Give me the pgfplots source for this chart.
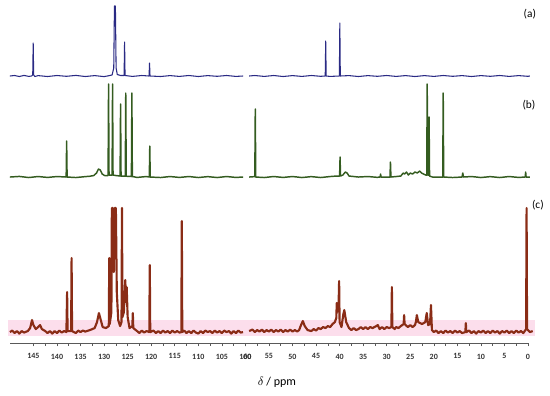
\documentclass[border=0pt]{standalone}
\usepackage{pgfplots}
\pgfplotsset{compat=1.18}
\usepackage{fontspec}
\setmainfont{Carlito}

\definecolor{specA}{RGB}{42,42,132}
\definecolor{specB}{RGB}{52,92,32}
\definecolor{specC}{RGB}{138,44,22}
\definecolor{bandC}{RGB}{252,222,236}

% x: left half (150-100 ppm) drawn at ppm-40, right half (60-0 ppm) at ppm
% y: offsets of the three traces above the ppm axis (1 unit = 1 px)
\begin{document}
\begin{tikzpicture}
\begin{axis}[
    scale only axis,
    width=388.5pt, height=257.25pt,
    xmin=0, xmax=110, ymin=0, ymax=343,
    x dir=reverse,
    axis x line*=bottom,
    axis y line=none,
    clip=false,
    x axis line style={gray!70!black, line width=0.5pt},
    xtick={0,5,...,105},
    xticklabels={0,5,10,15,20,25,30,35,40,45,50,55,100,105,110,115,120,125,130,135,140,145},
    extra x ticks={60},
    extra x tick labels={60},
    extra x tick style={xticklabel style={xshift=1.5pt}},
    minor x tick num=1,
    xtick align=outside,
    major tick length=2.5pt, minor tick length=2pt,
    tick style={gray!70!black, line width=0.4pt},
    /pgf/number format/assume math mode=true,
    xticklabel style={font=\bfseries\fontsize{6}{7}\selectfont, text=black!80, yshift=-2pt},
    xlabel={$\delta$ / ppm},
    xlabel style={at={(axis cs:53.3,-39)}, anchor=center, font=\fontsize{9}{10}\selectfont},
]

% pink band behind trace (c)
\addplot[draw=none, fill=bandC] coordinates {(110.4,7) (-1.5,7) (-1.5,23) (110.4,23)} -- cycle;

% ---------- (a) ----------
\addplot[specA, line width=0.8pt, line join=round] table[x expr=\thisrow{ppm}-40, y expr=\thisrow{h}+267] {
ppm h
150 0
149 0.5
148 -0.5
147 0.6
146 -0.4
145.4 0
145.15 1
145.05 33
144.95 1
144.7 -0.5
144 0.4
142 -0.5
140 0.5
138 -0.3
136 0.6
134 -0.5
132 0.4
130 -0.6
129 0.3
128.3 1
127.95 8
127.8 70
127.6 70
127.45 8
127.2 1.5
126.5 0.5
125.75 0.5
125.65 34
125.55 0.5
124 -0.4
122 0.5
120.45 0
120.35 13
120.25 0
118 -0.5
116 0.4
114 -0.4
112 0.5
110 -0.5
108 0.4
106 -0.3
104 0.5
102 -0.4
100.5 0
};
\addplot[specA, line width=0.8pt, line join=round] table[x=ppm, y expr=\thisrow{h}+267] {
ppm h
59.2 0
58 0.5
56 -0.4
54 0.5
52 -0.5
50 0.4
48 -0.4
46 0.5
44 -0.3
43.05 0
42.95 35
42.85 0
42 -0.4
40.05 0
39.95 53
39.85 0
38 0.4
36 -0.5
34 0.4
32 -0.3
30 0.5
28 -0.4
26 0.4
24 -0.5
22 0.4
20 -0.4
18 0.5
16 -0.3
14 0.4
12 -0.5
10 0.4
8 -0.3
6 0.5
4 -0.4
2 0.4
0 -0.3
-0.4 0
};

% ---------- (b) ----------
\addplot[specB, line width=1.1pt, line join=round] table[x expr=\thisrow{ppm}-40, y expr=\thisrow{h}+166] {
ppm h
150 0
148 0.6
146 -0.5
144 0.5
142 -0.4
140 0.5
138.05 0
137.95 36
137.85 0
136 -0.5
134 0.4
133 0.8
132.2 1.5
131.6 4
131.2 8
130.8 7
130.4 3
129.9 1.5
129.15 1.5
129.05 93
128.95 2
128.3 2
128.2 93
128.1 2
127.5 1.5
126.6 1
126.5 73
126.4 1
125.5 0.8
125.4 84
125.3 0.8
124.2 0.5
124.1 84
124.0 0.5
123 -0.4
121 0.5
120.4 0
120.3 31
120.2 0
118 -0.5
116 0.5
114 -0.4
112 0.5
110 -0.5
108 0.4
106 -0.5
104 0.5
102 -0.4
100.5 0
};
\addplot[specB, line width=1.1pt, line join=round] table[x=ppm, y expr=\thisrow{h}+166] {
ppm h
59.2 0
58 0.4
57.9 68
57.8 0
56 -0.5
54 0.5
52 -0.4
50 0.5
48 -0.5
46 0.4
44 -0.5
42 0.5
40.6 1
40.0 1
39.9 20
39.8 1
39.3 2
38.8 5
38.4 4
38 1
36 0
34 0.5
32 -0.3
31.4 0
31.3 3
31.2 0
29.3 0
29.2 15
29.1 0
28 0.5
27 1
26.5 4
26.2 3
25.8 5
25.4 2
25 4
24.5 3
24 5
23.5 4
23 6
22.6 4
22.2 3
21.7 2
21.5 2
21.4 93
21.3 2
21.1 2
21.0 60
20.9 1
20.3 0
18.1 0
18.0 84
17.9 0
16 -0.5
14 0
13.85 4
13.7 0
12 0.5
10 -0.5
8 0.4
6 -0.5
4 0.5
2 -0.4
0.6 0
0.5 5
0.4 0
-0.4 0
};

% ---------- (c) ----------
\addplot[specC, line width=1.6pt, line join=round] table[x expr=\thisrow{ppm}-40, y expr=\thisrow{h}+11] {
ppm h
150 0
149.5 1.5
149 -1
148.5 1
148 -1.5
147.5 1
147 -0.5
146.2 1
145.7 4
145.3 12
145 7
144.5 3
144 5
143.6 7
143.2 3
142.5 1
142 -1
141.5 1
141 -1.5
140.5 1
140 -1
139.5 1.5
139 -0.5
138.5 1
138 0
137.85 40
137.75 1
137.0 1
136.9 74
136.8 1
136 -1
135.5 1.5
135 0
134.5 1.5
134 0.5
133 2
132 4
131.5 10
131.1 19
130.7 12
130.3 5
129.6 4
129.0 6
128.9 74
128.8 8
128.45 20
128.35 124
128.15 124
127.95 60
127.75 124
127.5 124
127.3 40
127.0 12
126.6 6
126.3 10
126.2 124
126.1 15
125.8 20
125.5 52
125.35 30
125.2 45
125.0 15
124.6 4
124.0 6
123.9 19
123.8 4
123 1
122.5 -1
122 1.5
121.5 -0.5
121 1
120.4 0
120.3 67
120.2 0
119.5 1.5
119 -1
118.5 1
118 -1
117.5 1.5
117 -0.5
116.5 1
116 -1
115.5 1.5
115 -0.5
114.5 1
114 -0.5
113.6 0
113.5 111
113.4 0
113 1.5
112.5 -1
112 1
111.5 -1
111 1.5
110.5 -0.5
110 -1.5
109.5 1
109 -1
108.5 1.5
108 0
107.5 1
107 -1
106.5 1.5
106 -0.5
105.5 1
105 -1
104.5 1.5
104 0
103.5 1
103 -1.5
102.5 1
102 -1
101.5 1.5
101 -0.5
100.5 0
};
\addplot[specC, line width=1.6pt, line join=round] table[x=ppm, y expr=\thisrow{h}+11] {
ppm h
59.2 1
58.5 2.5
58 0
57.5 2
57 0.5
56.5 2.5
56 0
55.5 2
55 0.5
54.5 2.5
54 0
53.5 2
53 0.5
52.5 2.5
52 0
51.5 2
51 0.5
50.5 2.5
50 0.5
49.5 2
49 0.5
48.6 2
48.1 8
47.8 11
47.4 6
46.8 2
46 1
45.5 3
45 1.5
44.5 4
44 3
43.5 5
43 4
42.5 6
42 5
41.5 8
41 10
40.7 14
40.6 29
40.5 20
40.2 30
40.1 51
40.0 10
39.6 5
39.2 18
39.0 22
38.6 10
38 4
37.5 2
37 4
36.5 2
36 3
35.5 5
35 3
34.5 5
34 3
33.5 5
33 4
32.2 6
31.9 7
31.5 3
31 5
30.5 3
30 5
29.5 4
29.0 5
28.9 45
28.8 5
28.3 3
28 5
27.5 4
27 6
26.4 8
26.3 17
26.2 8
25.5 5
25 7
24.5 5
24 7
23.8 10
23.6 17
23.3 10
22.5 8
21.8 10
21.5 19
21.2 7
20.8 8
20.6 27
20.4 2
20 0
19.5 1.5
19 -1
18.5 1
18 -1
17.5 1.5
17 -0.5
16.5 1
16 -1
15.5 1.5
15 -0.5
14.5 1
14 -1
13.3 0
13.2 9
13.1 0
12.5 1.5
12 -1
11.5 1
11 -1.5
10.5 1
10 -0.5
9.5 1.5
9 -1
8.5 1
8 -1
7.5 1.5
7 -0.5
6.5 1
6 -1.5
5.5 1
5 -0.5
4.5 1.5
4 -1
3.5 1
3 -1
2.5 1.5
2 -0.5
1.5 1
1 -1
0.4 3
0.3 124
0.2 3
-0.4 0
-1 1
};

\node[font=\fontsize{8.5}{10}\selectfont, anchor=center] at (axis cs:-0.4,329) {(a)};
\node[font=\fontsize{8.5}{10}\selectfont, anchor=center] at (axis cs:-0.2,238) {(b)};
\node[font=\fontsize{8.5}{10}\selectfont, anchor=center] at (axis cs:-2.1,138) {(c)};

\coordinate (BL) at (axis cs:112.1,-52);
\coordinate (TR) at (axis cs:-4.67,343);
\end{axis}
\pgfresetboundingbox
\path[use as bounding box] (BL) rectangle (TR);
\end{tikzpicture}
\end{document}
